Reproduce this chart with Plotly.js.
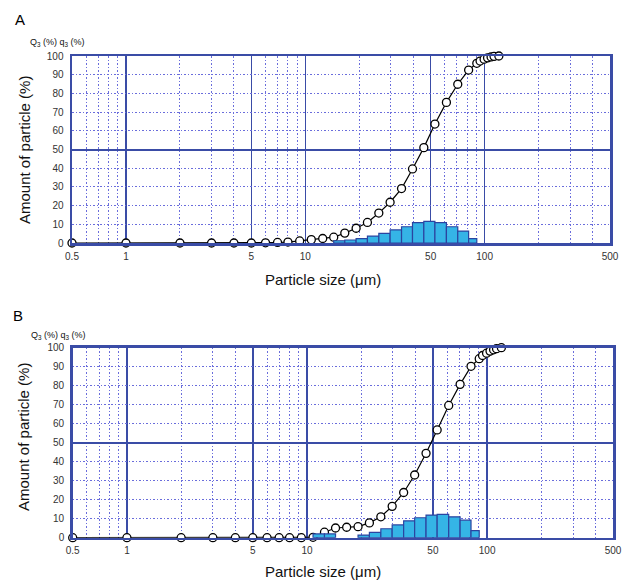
<!DOCTYPE html>
<html>
<head>
<meta charset="utf-8">
<script src="https://cdn.plot.ly/plotly-3.0.1.min.js"></script>
<style>html,body{margin:0;padding:0;background:#fff;}#chart{width:623px;height:580px;}</style>
</head>
<body>
<div id="chart"></div>
<script>
// Particle sizes (µm) at which the cumulative curve is sampled
const sizes = [0.5, 1, 2, 3, 4, 5, 6, 7, 8, 9.3, 10.8, 12.5, 14.4, 16.6, 19.2, 22.2, 25.7, 29.7, 34.4, 39.6, 45.8, 52.8, 61.2, 70.8, 81.4, 90.4, 94.3, 99.3, 103.8, 108.6, 112.8, 120];
// Panel A cumulative Q3 (%)
const Q3_A = [0, 0, 0, 0, 0, 0, 0.1, 0.3, 0.5, 1.1, 1.8, 2.4, 3.1, 5.3, 7.9, 11.0, 16.0, 21.8, 29.1, 39.6, 51.0, 63.6, 75.2, 84.9, 92.5, 96.1, 97.3, 98.3, 99.0, 99.5, 99.8, 100];
// Panel B cumulative Q3 (%)
const Q3_B = [0, 0, 0, 0, 0, 0, 0, 0, 0, 0, 0.2, 2.9, 5.1, 5.5, 5.8, 7.8, 11.0, 16.5, 23.8, 33.0, 44.4, 56.7, 69.6, 80.7, 90.2, 94.2, 95.9, 97.1, 98.2, 98.9, 99.5, 100];
// Frequency q3 (%) for bin [sizes[i-1], sizes[i]] (value listed at index i)
const q3_A = [0, 0, 0, 0, 0, 0, 0, 0, 0, 0, 0, 0, 0, 1.2, 1.6, 2.3, 3.7, 5.2, 7.0, 8.7, 10.9, 11.6, 10.9, 8.7, 6.4, 2.3, 0, 0, 0, 0, 0, 0];
const q3_B = [0, 0, 0, 0, 0, 0, 0, 0, 0, 0, 0, 2.0, 2.0, 0, 0, 1.4, 2.8, 4.7, 6.7, 8.9, 10.5, 11.9, 12.3, 11.0, 9.2, 3.7, 0, 0, 0, 0, 0, 0];
// Axis ticks
const xMajor = [0.5, 1, 5, 10, 50, 100, 500];
const xMajorText = ['0.5', '1', '5', '10', '50', '100', '500'];
const xMinor = [0.6, 0.7, 0.8, 0.9, 2, 3, 4, 6, 7, 8, 9, 20, 30, 40, 60, 70, 80, 90, 200, 300, 400];
const yTicks = [0, 10, 20, 30, 40, 50, 60, 70, 80, 90, 100];
const ySolid = [50];

const W = 623, H = 580;
const BLUE = '#3a4ca6';
const DOT = '#6a6ddc';
const DASH = '1.5px,2px';
const FONT = 'Arial, "Liberation Sans", sans-serif';
const xRange = [Math.log10(0.5), Math.log10(500)];

function barData(q) {
  const xs = [], ws = [], ys = [];
  for (let i = 1; i < sizes.length; i++) {
    if (q[i] > 0) {
      const a = Math.log10(sizes[i - 1]), b = Math.log10(sizes[i]);
      xs.push((a + b) / 2); ws.push(b - a); ys.push(q[i]);
    }
  }
  return {xs, ws, ys};
}

const bA = barData(q3_A), bB = barData(q3_B);

const lineStyle = {color: '#000', width: 1.2};
const markerStyle = {size: 8, color: '#fff', line: {color: '#000', width: 1.3}};
const barMarker = {color: '#35b4e6', line: {color: '#2b44a0', width: 1.2}};

const traces = [
  {type: 'bar', x: bA.xs, y: bA.ys, width: bA.ws, xaxis: 'x3', yaxis: 'y3', marker: barMarker, hoverinfo: 'skip'},
  {type: 'scatter', mode: 'lines+markers', x: sizes, y: Q3_A, xaxis: 'x', yaxis: 'y', line: lineStyle, marker: markerStyle, cliponaxis: false},
  {type: 'bar', x: bB.xs, y: bB.ys, width: bB.ws, xaxis: 'x4', yaxis: 'y4', marker: barMarker, hoverinfo: 'skip'},
  {type: 'scatter', mode: 'lines+markers', x: sizes, y: Q3_B, xaxis: 'x2', yaxis: 'y2', line: lineStyle, marker: markerStyle, cliponaxis: false}
];

function logAxis(domain, anchor) {
  return {
    type: 'log', domain: domain, anchor: anchor, range: xRange,
    tickmode: 'array', tickvals: xMajor, ticktext: xMajorText,
    ticks: '', ticklabelstandoff: 2,
    tickfont: {family: FONT, size: 10, color: '#333'},
    showgrid: true, gridcolor: BLUE, gridwidth: 1.6,
    showline: true, linecolor: BLUE, linewidth: 2.5, mirror: true,
    zeroline: false,
    minor: {tickmode: 'array', tickvals: xMinor, showgrid: true, gridcolor: DOT, gridwidth: 1, griddash: DASH, ticks: ''}
  };
}
function linAxis(domain, anchor) {
  return {
    domain: domain, anchor: anchor, range: [0, 100],
    tickmode: 'array', tickvals: yTicks,
    ticks: '', ticklabelstandoff: 4,
    tickfont: {family: FONT, size: 10, color: '#333'},
    showgrid: true, gridcolor: DOT, gridwidth: 1, griddash: DASH,
    showline: true, linecolor: BLUE, linewidth: 2.5, mirror: true,
    zeroline: false
  };
}
function overlayY(base, xa) {
  return {
    overlaying: base, anchor: xa, range: [0, 100],
    tickmode: 'array', tickvals: ySolid, showticklabels: false, ticks: '',
    showgrid: true, gridcolor: BLUE, gridwidth: 2,
    showline: false, zeroline: false
  };
}

const domXA = [72 / W, 610 / W], domYA = [1 - 243 / H, 1 - 56 / H];
const domXB = [72.7 / W, 613 / W], domYB = [1 - 537.7 / H, 1 - 347.7 / H];

function ann(text, px, py, size, extra) {
  return Object.assign({text: text, x: px / W, y: 1 - py / H, xref: 'paper', yref: 'paper',
    xanchor: 'center', yanchor: 'middle', showarrow: false,
    font: {family: FONT, size: size, color: '#111'}}, extra || {});
}

const layout = {
  width: W, height: H,
  margin: {l: 0, r: 0, t: 0, b: 0},
  paper_bgcolor: '#fff', plot_bgcolor: '#fff',
  showlegend: false, bargap: 0,
  xaxis: logAxis(domXA, 'y'),
  yaxis: linAxis(domYA, 'x'),
  xaxis2: logAxis(domXB, 'y2'),
  yaxis2: linAxis(domYB, 'x2'),
  xaxis3: {overlaying: 'x', anchor: 'y3', range: xRange, visible: false},
  yaxis3: overlayY('y', 'x3'),
  xaxis4: {overlaying: 'x2', anchor: 'y4', range: xRange, visible: false},
  yaxis4: overlayY('y2', 'x4'),
  annotations: [
    ann('A', 20, 20, 15, {font: {family: FONT, size: 15, color: '#000'}}),
    ann('B', 18, 315, 15, {font: {family: FONT, size: 15, color: '#000'}}),
    ann('Q<sub>3</sub> (%) q<sub>3</sub> (%)', 57, 42, 9),
    ann('Q<sub>3</sub> (%) q<sub>3</sub> (%)', 58, 335, 9),
    ann('Amount of particle (%)', 25, 150, 15, {textangle: -90}),
    ann('Amount of particle (%)', 23, 437, 15, {textangle: -90}),
    ann('Particle size (μm)', 323, 279, 15),
    ann('Particle size (μm)', 323, 571, 15)
  ]
};

Plotly.newPlot('chart', traces, layout, {staticPlot: true, displayModeBar: false});
</script>
</body>
</html>
